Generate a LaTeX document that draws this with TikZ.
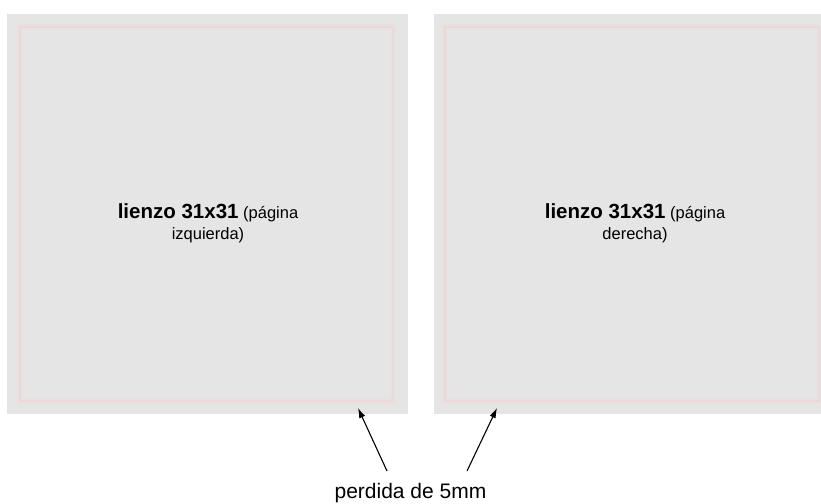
\documentclass[tikz,border=0pt]{standalone}
\usepackage{fontspec}
\setmainfont{Liberation Sans}
\usetikzlibrary{arrows.meta,positioning}
\definecolor{lienzogris}{RGB}{229,229,229}
\definecolor{margenrosa}{RGB}{235,217,217}
\definecolor{margenhalo}{RGB}{232,225,225}

\begin{document}
\begin{tikzpicture}[x=1pt,y=-1pt]
                    \tikzstyle{lienzo}=[fill=lienzogris,draw=none]
                    \tikzstyle{halo}=[draw=margenhalo,line width=6pt]
                    \tikzstyle{margen}=[draw=margenrosa,line width=2.4pt]
                    \tikzstyle{flecha}=[-{Latex[length=10pt,width=6.5pt]},line width=1.1pt,black]
                    \tikzstyle{rotulo}=[align=center,inner sep=0pt,font=\fontsize{16.5}{21}\selectfont]
                    \useasboundingbox (0,0) rectangle (821,503);
                    % pagina izquierda
                    \fill [lienzo] (7,14) rectangle (408,414);
                    \draw [halo] (20,27) rectangle (393,401);
                    \draw [margen] (20,27) rectangle (393,401);
                    \node [rotulo] (izq) at (208,223) {{\fontsize{20.5}{21}\selectfont\bfseries lienzo 31x31} (página\\izquierda)};
                    % pagina derecha
                    \fill [lienzo] (434,14) rectangle (821,414);
                    \draw [halo] (445,27) rectangle (819,401);
                    \draw [margen] (445,27) rectangle (819,401);
                    \node [rotulo] (der) at (635,223) {{\fontsize{20.5}{21}\selectfont\bfseries lienzo 31x31} (página\\derecha)};
                    % flechas
                    \node [anchor=base,inner sep=0pt,font=\fontsize{21}{24}\selectfont] (perdida) at (410.5,498) {perdida de 5mm};
                    \coordinate (colaIzq) at (387,471);
                    \coordinate (colaDer) at (467,471);
                    \coordinate (puntaIzq) at (358,408);
                    \coordinate (puntaDer) at (497,408);
                    \draw [flecha] (colaIzq) -- (puntaIzq);
                    \draw [flecha] (colaDer) -- (puntaDer);
                \end{tikzpicture}
\end{document}
